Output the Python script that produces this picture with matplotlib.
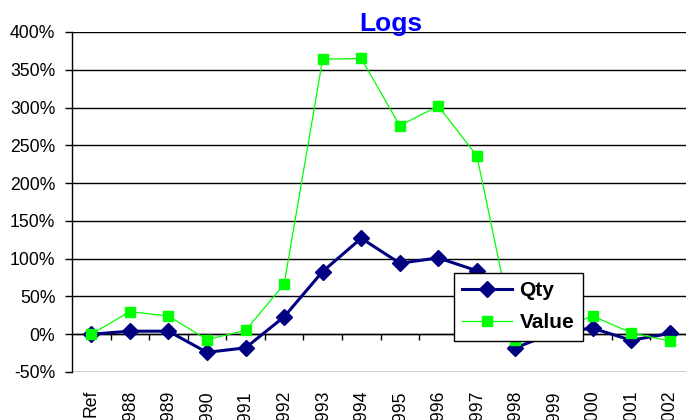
import matplotlib
matplotlib.use("Agg")
import matplotlib.pyplot as plt
from matplotlib.ticker import FuncFormatter, MultipleLocator

plt.rcParams['font.family'] = ['Liberation Sans', 'DejaVu Sans']

# categories and series (percent)
years = ['Ref', '1988', '1989', '1990', '1991', '1992', '1993', '1994',
         '1995', '1996', '1997', '1998', '1999', '2000', '2001', '2002']
qty = [0, 4, 4, -24, -18, 23, 83, 127, 94, 101, 84, -18, 2, 8, -8, 1]
value = [0, 30, 24, -7, 5, 66, 364, 365, 276, 302, 236, -8, 5, 24, 2, -9]

fig = plt.figure(figsize=(6.86, 4.2), dpi=100)
ax = fig.add_axes([72/686, 1-372/420, 617/686, 340/420])

x = range(len(years))
ax.plot(x, qty, color='#000080', lw=2.2, marker='D', ms=8.5, label='Qty', zorder=3)
ax.plot(x, value, color='#00FF00', lw=0.9, marker='s', ms=6.8, label='Value', zorder=4)

ax.set_xlim(-0.5, len(years) - 0.5)
ax.set_ylim(-50, 400)
ax.yaxis.set_major_locator(MultipleLocator(50))
ax.yaxis.set_major_formatter(FuncFormatter(lambda v, p: '%d%%' % v))
ax.grid(axis='y', color='black', lw=1)
ax.set_axisbelow(True)

for s in ['top', 'right', 'bottom']:
    ax.spines[s].set_visible(False)
ax.spines['left'].set_linewidth(1)

ax.tick_params(axis='y', length=5, width=1, pad=7, labelsize=12.7)
ax.set_xticks(list(x))
ax.set_xticklabels(years, rotation=90, fontsize=12.7)
ax.tick_params(axis='x', length=0, pad=13)

# category axis crossing at 0%, ticks between categories
sec = ax.secondary_xaxis(50/450)
sec.set_xticks([i + 0.5 for i in range(len(years) - 1)])
sec.tick_params(axis='x', length=4, width=1, labelbottom=False, direction='out')
sec.spines['bottom'].set_linewidth(1)

fig.text(391/686, 1-31/420, 'Logs', ha='center', va='baseline',
         fontsize=19, fontweight='bold', color='#0000FF')

leg = ax.legend(loc='upper left', bbox_to_anchor=(454/686, 1-273/420),
                bbox_transform=fig.transFigure, borderaxespad=0,
                fancybox=False, framealpha=1, edgecolor='black',
                prop={'size': 15, 'weight': 'bold'}, handlelength=2.4,
                labelspacing=0.62, handletextpad=0.35, borderpad=0.4)
leg.get_frame().set_linewidth(1)
leg.set_zorder(10)

fig.savefig('out.png', dpi=100)
